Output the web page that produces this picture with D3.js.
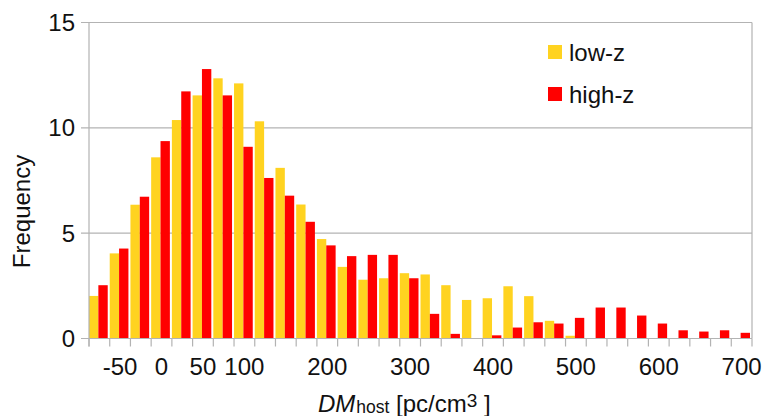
<!DOCTYPE html>
<html>
<head>
<meta charset="utf-8">
<script src="https://cdn.jsdelivr.net/npm/d3@7"></script>
<style>
  body { margin: 0; background: #fff; }
  text { font-family: "Liberation Sans", Arial, sans-serif; fill: #111; }
</style>
</head>
<body>
<svg id="chart" width="764" height="416"></svg>
<script>
// bins of DM_host (centre of each 25 pc/cm3 bin)
var categories = [-75, -50, -25, 0, 25, 50, 75, 100, 125, 150, 175, 200, 225, 250, 275, 300,
                  325, 350, 375, 400, 425, 450, 475, 500, 525, 550, 575, 600, 625, 650, 675, 700];
var lowZ  = [2.02, 4.04, 6.35, 8.6, 10.37, 11.54, 12.35, 12.11, 10.31, 8.1, 6.36, 4.72, 3.4, 2.79, 2.86, 3.1,
             3.04, 2.53, 1.83, 1.91, 2.48, 2.01, 0.84, 0.13, 0, 0, 0, 0, 0, 0, 0, 0];
var highZ = [2.53, 4.27, 6.73, 9.37, 11.73, 12.79, 11.54, 9.1, 7.62, 6.78, 5.54, 4.42, 3.91, 3.97, 3.97, 2.86,
             1.17, 0.22, 0, 0.15, 0.52, 0.77, 0.71, 0.98, 1.47, 1.47, 1.09, 0.71, 0.39, 0.33, 0.39, 0.27];
var seriesNames = ["low-z", "high-z"];
var seriesColors = ["#ffd320", "#ff0000"];
var shownLabels = ["-50", "0", "50", "100", "200", "300", "400", "500", "600", "700"];
var yTicks = [0, 5, 10, 15];

var svg = d3.select("#chart");
var plotLeft = 89, plotRight = 752, plotTop = 22.5, plotBottom = 338.5;

var x = d3.scaleBand()
    .domain(categories)
    .range([plotLeft, plotRight]);

// the two bars inside one bin, leaving a small gap at the bin edge
var xs = d3.scaleBand()
    .domain(seriesNames)
    .range([0, x.bandwidth() - 2]);

var y = d3.scaleLinear()
    .domain([0, 15])
    .range([plotBottom, plotTop]);

// grid
svg.append("g")
    .selectAll("line")
    .data(yTicks.slice(1))
  .enter().append("line")
    .attr("x1", plotLeft - 8)
    .attr("x2", plotRight)
    .attr("y1", function(d) { return y(d); })
    .attr("y2", function(d) { return y(d); })
    .attr("stroke", "#b3b3b3")
    .attr("stroke-width", 1.2);

// right border
svg.append("line")
    .attr("x1", plotRight).attr("x2", plotRight)
    .attr("y1", plotTop).attr("y2", plotBottom)
    .attr("stroke", "#b3b3b3")
    .attr("stroke-width", 1.2);

// bars
var rows = categories.map(function(c, i) {
  return [{cat: c, s: seriesNames[0], v: lowZ[i]}, {cat: c, s: seriesNames[1], v: highZ[i]}];
});

var group = svg.append("g")
    .selectAll("g")
    .data(rows)
  .enter().append("g")
    .attr("transform", function(d) { return "translate(" + x(d[0].cat) + ",0)"; });

group.selectAll("rect")
    .data(function(d) { return d.filter(function(e) { return e.v > 0; }); })
  .enter().append("rect")
    .attr("x", function(d) { return xs(d.s); })
    .attr("width", xs.bandwidth())
    .attr("y", function(d) { return y(d.v); })
    .attr("height", function(d) { return y(0) - y(d.v); })
    .attr("fill", function(d) { return seriesColors[seriesNames.indexOf(d.s)]; });

// x axis: ticks at bin edges, labels at bin centres
var xAxis = svg.append("g").attr("transform", "translate(0," + plotBottom + ")");
xAxis.append("line")
    .attr("x1", plotLeft - 8).attr("x2", plotRight)
    .attr("stroke", "#b3b3b3").attr("stroke-width", 1.2);
xAxis.selectAll(".tk")
    .data(categories.concat(["end"]))
  .enter().append("line")
    .attr("x1", function(d) { return d === "end" ? plotRight : x(d); })
    .attr("x2", function(d) { return d === "end" ? plotRight : x(d); })
    .attr("y1", 0).attr("y2", 8)
    .attr("stroke", "#b3b3b3").attr("stroke-width", 1.2);
xAxis.selectAll("text")
    .data(categories.filter(function(c) { return shownLabels.indexOf(String(c)) >= 0; }))
  .enter().append("text")
    .attr("x", function(d) { return x(d) + x.bandwidth() / 2; })
    .attr("y", 36)
    .attr("text-anchor", "middle")
    .style("font-size", "24px")
    .text(function(d) { return d; });

// y axis
var yAxis = svg.append("g");
yAxis.append("line")
    .attr("x1", plotLeft).attr("x2", plotLeft)
    .attr("y1", plotTop).attr("y2", plotBottom + 8)
    .attr("stroke", "#b3b3b3").attr("stroke-width", 1.2);
yAxis.selectAll("text")
    .data(yTicks)
  .enter().append("text")
    .attr("x", plotLeft - 14)
    .attr("y", function(d) { return y(d); })
    .attr("dy", "0.35em")
    .attr("text-anchor", "end")
    .style("font-size", "24px")
    .text(function(d) { return d; });

// axis titles
svg.append("text")
    .attr("transform", "translate(29.5,211.5) rotate(-90)")
    .attr("text-anchor", "middle")
    .style("font-size", "24px")
    .text("Frequency");

var xt = svg.append("text")
    .attr("x", 318)
    .attr("y", 411.5)
    .style("font-size", "24px");
xt.append("tspan").style("font-style", "italic").text("DM");
xt.append("tspan").style("font-size", "17.5px").attr("dx", 1).attr("dy", 1).text("host");
xt.append("tspan").attr("dy", -1).text(" [pc/cm");
xt.append("tspan").style("font-size", "19px").attr("dy", -4.5).text("3");
xt.append("tspan").attr("dy", 4.5).text(" ]");

// legend
var legend = svg.append("g")
    .selectAll("g")
    .data(seriesNames)
  .enter().append("g")
    .attr("transform", function(d, i) { return "translate(548," + (45 + i * 42) + ")"; });
legend.append("rect")
    .attr("width", 14).attr("height", 14)
    .attr("fill", function(d, i) { return seriesColors[i]; });
legend.append("text")
    .attr("x", 21).attr("y", 16)
    .style("font-size", "24px")
    .text(function(d) { return d; });
</script>
</body>
</html>
